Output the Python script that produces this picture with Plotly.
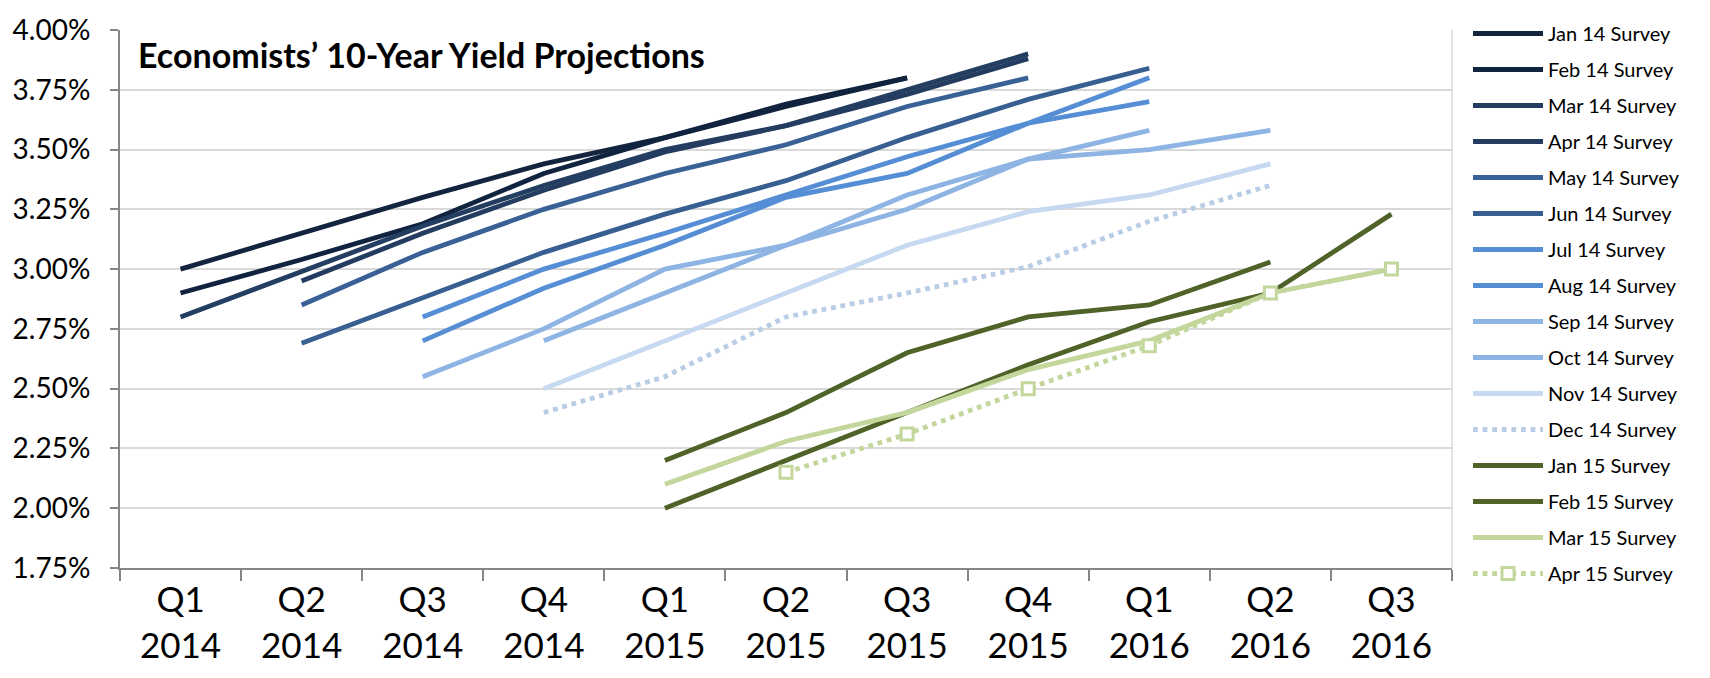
import plotly.graph_objects as go

categories = ["Q1<br>2014", "Q2<br>2014", "Q3<br>2014", "Q4<br>2014",
              "Q1<br>2015", "Q2<br>2015", "Q3<br>2015", "Q4<br>2015",
              "Q1<br>2016", "Q2<br>2016", "Q3<br>2016"]

jan14 = [3.00, 3.15, 3.30, 3.44, 3.55, 3.68, 3.80, None, None, None, None]
feb14 = [2.90, 3.04, 3.19, 3.40, 3.55, 3.69, 3.80, None, None, None, None]
mar14 = [2.80, 2.99, 3.18, 3.35, 3.50, 3.60, 3.75, 3.90, None, None, None]
apr14 = [None, 2.95, 3.15, 3.33, 3.49, 3.60, 3.73, 3.88, None, None, None]
may14 = [None, 2.85, 3.07, 3.25, 3.40, 3.52, 3.68, 3.80, None, None, None]
jun14 = [None, 2.69, 2.88, 3.07, 3.23, 3.37, 3.55, 3.71, 3.84, None, None]
jul14 = [None, None, 2.80, 3.00, 3.15, 3.31, 3.47, 3.61, 3.70, None, None]
aug14 = [None, None, 2.70, 2.92, 3.10, 3.30, 3.40, 3.61, 3.80, None, None]
sep14 = [None, None, 2.55, 2.75, 3.00, 3.10, 3.25, 3.46, 3.50, 3.58, None]
oct14 = [None, None, None, 2.70, 2.90, 3.10, 3.31, 3.46, 3.58, None, None]
nov14 = [None, None, None, 2.50, 2.70, 2.90, 3.10, 3.24, 3.31, 3.44, None]
dec14 = [None, None, None, 2.40, 2.55, 2.80, 2.90, 3.01, 3.20, 3.35, None]
jan15 = [None, None, None, None, 2.20, 2.40, 2.65, 2.80, 2.85, 3.03, None]
feb15 = [None, None, None, None, 2.00, 2.20, 2.40, 2.60, 2.78, 2.90, 3.23]
mar15 = [None, None, None, None, 2.10, 2.28, 2.40, 2.58, 2.70, 2.90, 3.00]
apr15 = [None, None, None, None, None, 2.15, 2.31, 2.50, 2.68, 2.90, 3.00]

series_names = ["Jan 14 Survey", "Feb 14 Survey", "Mar 14 Survey", "Apr 14 Survey",
                "May 14 Survey", "Jun 14 Survey", "Jul 14 Survey", "Aug 14 Survey",
                "Sep 14 Survey", "Oct 14 Survey", "Nov 14 Survey", "Dec 14 Survey",
                "Jan 15 Survey", "Feb 15 Survey", "Mar 15 Survey", "Apr 15 Survey"]
series_values = [jan14, feb14, mar14, apr14, may14, jun14, jul14, aug14,
                 sep14, oct14, nov14, dec14, jan15, feb15, mar15, apr15]
series_colors = ["#13243F", "#10233F", "#243E62", "#233C60",
                 "#3A6195", "#375F91", "#558ED5", "#558ED5",
                 "#8EB4E3", "#8EB4E3", "#C6D9F1", "#B9CDE5",
                 "#4F6228", "#4F6228", "#C3D69B", "#C3D69B"]
series_dash = ["solid"] * 11 + ["dot"] + ["solid"] * 3 + ["dot"]

FONT = "Lato, 'Open Sans', sans-serif"

fig = go.Figure()
for name, vals, col, dash in zip(series_names, series_values, series_colors, series_dash):
    is_marker = name == "Apr 15 Survey"
    fig.add_trace(go.Scatter(
        x=categories, y=vals, name=name, legendgroup=name,
        mode="lines+markers" if is_marker else "lines",
        line=dict(color=col, width=4.8, dash=dash),
        marker=dict(symbol="square", size=12, color="white",
                    line=dict(color=col, width=3)) if is_marker else None,
        connectgaps=False,
    ))

fig.add_annotation(
    text="<b>Economists’ 10-Year Yield Projections</b>",
    xref="paper", yref="paper", x=0.012, y=0.955, xanchor="left", yanchor="middle",
    showarrow=False, font=dict(family=FONT, size=34, color="black"),
)

fig.add_shape(type="line", xref="paper", yref="paper", x0=1, x1=1, y0=0, y1=1,
              line=dict(color="#D9D9D9", width=1.5), layer="below")

fig.update_layout(
    width=1710, height=678,
    margin=dict(l=120, r=258, t=20, b=110),
    paper_bgcolor="white", plot_bgcolor="white",
    font=dict(family=FONT, color="black"),
    showlegend=True,
    legend=dict(
        xref="container", yref="container", x=1468 / 1710, y=1 - 14 / 678,
        xanchor="left", yanchor="top",
        font=dict(family=FONT, size=20, color="black"),
        traceorder="grouped", tracegroupgap=7,
        itemwidth=70, bgcolor="rgba(0,0,0,0)",
        maxheight=670,
    ),
    xaxis=dict(
        type="category", tickson="boundaries",
        ticks="outside", ticklen=11, tickcolor="#868686", tickwidth=1.5,
        showline=True, linecolor="#868686", linewidth=2,
        showgrid=False, tickfont=dict(family=FONT, size=35, color="black"),
        range=[-0.5, 10.5],
    ),
    yaxis=dict(
        range=[1.75, 4.00], dtick=0.25, tick0=1.75,
        tickformat=".2f", ticksuffix="%",
        ticks="outside", ticklen=8, tickcolor="#868686", tickwidth=1.5,
        showline=True, linecolor="#868686", linewidth=2,
        showgrid=True, gridcolor="#D9D9D9", gridwidth=1.5,
        zeroline=False, tickfont=dict(family=FONT, size=28, color="black"),
        ticklabelstandoff=14,
    ),
)

fig.write_html("out.html")
